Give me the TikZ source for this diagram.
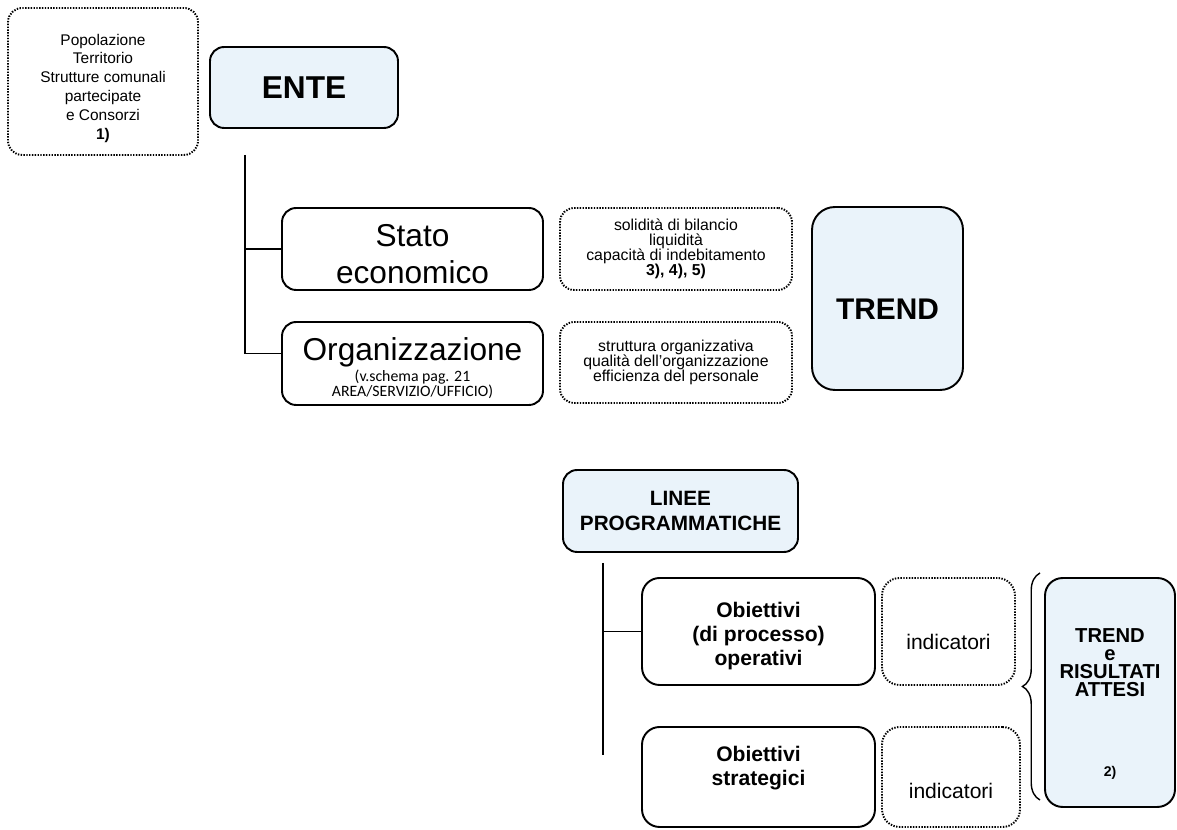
\documentclass[tikz,border=0pt]{standalone}
\usepackage{fontspec}
\setmainfont{Liberation Sans}
\newfontfamily\calibri{Carlito}
\usetikzlibrary{calc,decorations.pathreplacing}
\definecolor{paleblue}{RGB}{234,243,250}

\begin{document}
\begin{tikzpicture}[x=0.02cm, y=-0.02cm, line width=1.1pt,
	box/.style={draw, rounded corners=8pt, align=center, inner sep=2pt},
	dotbox/.style={draw, dash pattern=on 0.8pt off 0.8pt, rounded corners=8pt, align=center, inner sep=2pt},
	head/.style={box, fill=paleblue, font=\bfseries}]
	
	\useasboundingbox (0,0) rectangle (1177,830);
	
	% Ente
	\node[dotbox, minimum width=3.8cm, minimum height=2.94cm, font=\fontsize{8.8}{10.8}\selectfont] (info) at (103,81.5) {\rule{0pt}{14.3pt}Popolazione\\Territorio\\Strutture comunali\\partecipate\\e Consorzi\\\textbf{1)}};
	\node[head, minimum width=3.76cm, minimum height=1.62cm, font=\bfseries\fontsize{18}{21}\selectfont] (ente) at (304,87.5) {ENTE};
	
	% Stato economico and Organizzazione
	\node[box, minimum width=5.22cm, minimum height=1.64cm, font=\fontsize{18}{21}\selectfont] (stato) at (412.5,249) {\rule{0pt}{18.6pt}Stato\\economico};
	\node[box, minimum width=5.22cm, minimum height=1.66cm, font=\fontsize{18}{21}\selectfont] (orga) at (412.5,363.5) {\rule{0pt}{18.6pt}Organizzazione\\[-9.3pt]{\calibri\fontsize{9}{9}\selectfont (v.schema pag. 21}\\[-12pt]{\calibri\fontsize{9}{9}\selectfont AREA/SERVIZIO/UFFICIO)}};
	\node[dotbox, minimum width=4.64cm, minimum height=1.64cm, font=\fontsize{9}{8.6}\selectfont] (statoind) at (676,249) {solidità di bilancio\\liquidità\\capacità di indebitamento\\\textbf{3), 4), 5)}};
	\node[dotbox, minimum width=4.64cm, minimum height=1.62cm, font=\fontsize{9}{8.6}\selectfont] (orgaind) at (676,362.5) {struttura organizzativa\\qualità dell'organizzazione\\efficienza del personale};
	\node[head, rounded corners=13pt, minimum width=3.02cm, minimum height=3.66cm, text height=23.5pt, font=\bfseries\fontsize{17}{20}\selectfont] (trend) at (887.5,298.5) {TREND};
	
	% Ente lines
	\coordinate (enteTop) at (245,155);
	\draw (enteTop) |- ($(orga.west)+(0,-10)$);
	\draw (stato.west) -- (stato.west -| enteTop);
	
	% Linee programmatiche
	\node[head, minimum width=4.7cm, minimum height=1.64cm, font=\bfseries\fontsize{11.8}{14}\selectfont] (linee) at (680.5,511) {LINEE\\PROGRAMMATICHE};
	\node[box, rounded corners=10pt, minimum width=4.66cm, minimum height=2.14cm, font=\bfseries\fontsize{12}{13.7}\selectfont] (obop) at (758.5,631.5) {\rule{0pt}{13.4pt}Obiettivi\\(di processo)\\operativi};
	\node[box, rounded corners=10pt, minimum width=4.66cm, minimum height=2.0cm, font=\bfseries\fontsize{12}{13.7}\selectfont] (obstr) at (758.5,777) {Obiettivi\\strategici\rule[-12.7pt]{0pt}{12.7pt}};
	\node[dotbox, rounded corners=10pt, minimum width=2.66cm, minimum height=2.14cm, text height=20.5pt, font=\fontsize{12}{14}\selectfont] (ind1) at (948.5,631.5) {indicatori};
	\node[dotbox, rounded corners=10pt, minimum width=2.76cm, minimum height=2.0cm, text height=25pt, font=\fontsize{12}{14}\selectfont] (ind2) at (951,777) {indicatori};
	\node[head, rounded corners=10pt, minimum width=2.6cm, minimum height=4.58cm,
		label={[yshift=-6.5pt, align=center, font=\bfseries\fontsize{11.5}{10.3}\selectfont]center:TREND\\e\\RISULTATI\\ATTESI\\[35pt]{\fontsize{8}{8}\selectfont 2)}}] (risult) at (1110,692.5) {};
	
	% Linee lines
	\coordinate (lineeTop) at (603,563);
	\coordinate (lineeBot) at (603,755);
	\draw (lineeTop) -- (lineeBot);
	\draw (obop.west) -- (obop.west -| lineeTop);
	
	% Brace
	\coordinate (braceTop) at (1040,573);
	\coordinate (braceBot) at (1040,800);
	\draw[decorate, decoration={brace, amplitude=10pt}, line width=0.8pt] (braceBot) -- (braceTop);
	
\end{tikzpicture}
\end{document}
